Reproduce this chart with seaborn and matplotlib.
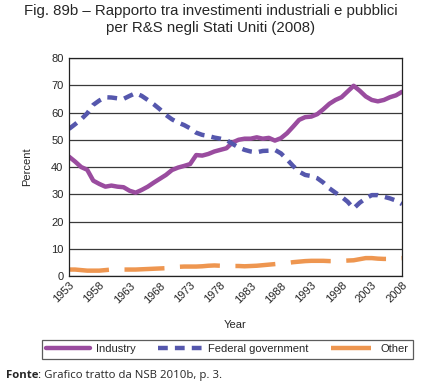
import numpy as np
import pandas as pd
import matplotlib.pyplot as plt
import seaborn as sns

sns.set_style("white")
plt.rcParams['font.family'] = ['Liberation Sans', 'DejaVu Sans']

years = list(range(1953, 2009))

industry = [43.8, 42.0, 40.0, 39.0, 35.0, 33.8, 32.8, 33.2, 32.8, 32.6,
            31.3, 30.6, 31.6, 32.8, 34.3, 35.7, 37.1, 38.9, 39.8, 40.4,
            41.1, 44.4, 44.2, 44.8, 45.7, 46.3, 46.9, 49.0, 50.0, 50.4,
            50.4, 50.9, 50.4, 50.7, 49.7, 50.6, 52.4, 54.8, 57.3, 58.3,
            58.5, 59.4, 61.2, 63.2, 64.6, 65.6, 67.7, 69.8, 68.0, 65.9,
            64.6, 64.1, 64.6, 65.6, 66.3, 67.6]

federal = [54.0, 55.7, 57.5, 59.7, 62.8, 64.4, 65.6, 65.5, 65.2, 65.0,
           66.1, 67.1, 66.1, 64.6, 63.0, 61.2, 59.1, 57.5, 56.3, 55.4,
           54.2, 52.6, 51.8, 51.4, 50.8, 50.4, 49.9, 48.5, 47.2, 46.3,
           45.7, 45.4, 45.9, 46.0, 46.3, 45.0, 42.8, 40.4, 38.3, 37.1,
           36.7, 35.9, 34.3, 32.2, 30.6, 29.1, 27.3, 24.8, 26.9, 28.5,
           29.7, 29.7, 29.1, 28.5, 27.7, 26.4]

other = [2.4, 2.4, 2.2, 2.0, 2.0, 2.0, 2.2, 2.4, 2.4, 2.4,
         2.4, 2.4, 2.5, 2.6, 2.7, 2.8, 2.9, 3.0, 3.4, 3.5,
         3.5, 3.5, 3.6, 3.8, 3.9, 3.8, 3.7, 3.7, 3.7, 3.6,
         3.7, 3.8, 4.0, 4.2, 4.4, 4.6, 4.8, 5.1, 5.3, 5.5,
         5.6, 5.6, 5.6, 5.5, 5.5, 5.6, 5.7, 5.8, 6.2, 6.6,
         6.6, 6.4, 6.3, 6.3, 6.5, 6.6]

df = pd.DataFrame({'Year': years, 'Industry': industry,
                   'Federal government': federal, 'Other': other})

fig = plt.figure(figsize=(4.21, 3.84), dpi=100)
ax = fig.add_axes([0.164, 0.281, 0.791, 0.568])

ax.yaxis.grid(True, color='#3a3a3a', linewidth=0.9)
ax.set_axisbelow(True)

sns.lineplot(data=df, x='Year', y='Industry', ax=ax, color='#9a4c9f',
             linewidth=3.2, label='Industry')
sns.lineplot(data=df, x='Year', y='Federal government', ax=ax, color='#5557ad',
             linewidth=3.2, label='Federal government')
ax.lines[-1].set_dashes([2.2, 1.6])
sns.lineplot(data=df, x='Year', y='Other', ax=ax, color='#ee9650',
             linewidth=3.2, label='Other')
ax.lines[-1].set_dashes([9, 3.5])

ax.set_xlim(1953, 2008)
ax.set_ylim(0, 80)
ax.set_xticks(range(1953, 2009, 5))
ax.set_xticklabels([str(y) for y in range(1953, 2009, 5)], rotation=45,
                   ha='right', va='top', rotation_mode='anchor', fontsize=8)
ax.set_xticks(np.arange(1953, 2008.1, 2.5), minor=True)
ax.set_yticks(range(0, 81, 10))
ax.set_yticks(range(5, 80, 10), minor=True)
ax.tick_params(axis='y', labelsize=8)
ax.tick_params(which='both', direction='in', length=3, width=0.8, color='#222')
ax.tick_params(axis='x', which='major', pad=3)
ax.tick_params(axis='y', which='major', pad=4)
for s in ax.spines.values():
    s.set_color('#222')
    s.set_linewidth(0.9)

ax.set_xlabel('Year', fontsize=8, labelpad=11)
ax.set_ylabel('Percent', fontsize=8, labelpad=14)

ax.get_legend().remove()
handles, labels = ax.get_legend_handles_labels()
leg = fig.legend(handles, labels, loc='center', ncol=3,
                 bbox_to_anchor=(0.540, 0.091), fontsize=8, frameon=True,
                 fancybox=False, edgecolor='#333', handlelength=4.0,
                 columnspacing=2.0, handletextpad=0.5, borderpad=0.4)
leg.get_frame().set_linewidth(0.9)

fig.text(0.5, 0.950, 'Fig. 89b \u2013 Rapporto tra investimenti industriali e pubblici\nper R&S negli Stati Uniti (2008)',
         ha='center', va='center', fontsize=10.8, linespacing=1.25)

fig.canvas.draw()
t1 = fig.text(0.014, 0.022, 'Fonte', fontsize=8.2, fontweight='bold', ha='left',
              va='center', family=['Open Sans', 'DejaVu Sans'])
bb = t1.get_window_extent(fig.canvas.get_renderer())
x1 = bb.x1 / fig.bbox.width
fig.text(x1, 0.022, ': Grafico tratto da NSB 2010b, p. 3.', fontsize=8.2,
         ha='left', va='center', family=['Open Sans', 'DejaVu Sans'])

fig.savefig('out.png', dpi=100)
